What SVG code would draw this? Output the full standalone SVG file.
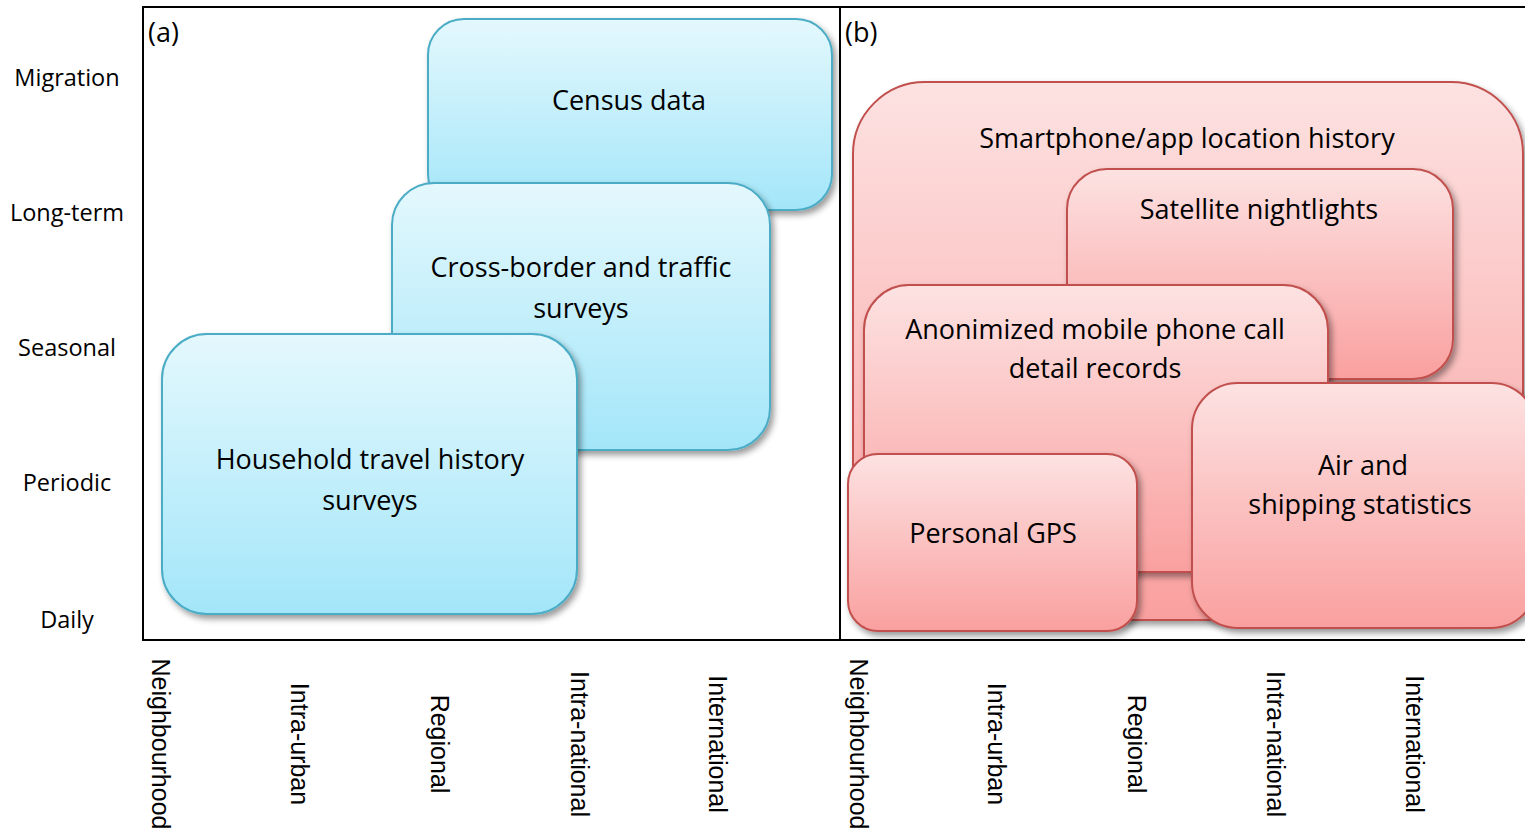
<svg xmlns="http://www.w3.org/2000/svg" width="1525" height="831" viewBox="0 0 1525 831">
<defs>
<linearGradient id="gBlue" x1="0" y1="0" x2="0" y2="1">
<stop offset="0" stop-color="#e4f8fd"/>
<stop offset="1" stop-color="#a3e6f9"/>
</linearGradient>
<linearGradient id="gRed" x1="0" y1="0" x2="0" y2="1">
<stop offset="0" stop-color="#fde2e2"/>
<stop offset="1" stop-color="#f9a09f"/>
</linearGradient>
<filter id="sh" x="-10%" y="-10%" width="125%" height="125%">
<feDropShadow dx="3" dy="4" stdDeviation="3" flood-color="#000" flood-opacity="0.4"/>
</filter>
</defs>
<style>
.blue{fill:url(#gBlue);stroke:#4bacc6;stroke-width:2;filter:url(#sh)}
.red{fill:url(#gRed);stroke:#c0504d;stroke-width:2;filter:url(#sh)}
.lbl{font-family:"Open Sans","Noto Sans",sans-serif;font-size:27px;fill:#000;text-anchor:middle}
.ylab{font-family:"Open Sans","Noto Sans",sans-serif;font-size:23.5px;fill:#000;text-anchor:middle}
.panel{font-family:"Open Sans","Noto Sans",sans-serif;font-size:27px;fill:#000}
.xlab{font-family:"Liberation Sans",Arial,sans-serif;font-size:25px;fill:#000;text-anchor:middle}
.frame{fill:none;stroke:#000;stroke-width:2}
</style>
<rect width="1525" height="831" fill="#fff"/>

<g id="frame">
<path class="frame" d="M1526,7 H143 V640 H1526"/>
<line class="frame" x1="840" y1="7" x2="840" y2="640"/>
<text class="panel" x="148" y="42">(a)</text>
<text class="panel" x="845" y="42">(b)</text>
</g>

<g id="y-axis">
<text class="ylab" x="67" y="86">Migration</text>
<text class="ylab" x="67" y="221">Long-term</text>
<text class="ylab" x="67" y="356">Seasonal</text>
<text class="ylab" x="67" y="491">Periodic</text>
<text class="ylab" x="67" y="628">Daily</text>
</g>

<g id="x-axis">
<text class="xlab" transform="translate(161,744) rotate(90)" dy="0.35em">Neighbourhood</text>
<text class="xlab" transform="translate(300,744) rotate(90)" dy="0.35em">Intra-urban</text>
<text class="xlab" transform="translate(440,744) rotate(90)" dy="0.35em">Regional</text>
<text class="xlab" transform="translate(580,744) rotate(90)" dy="0.35em">Intra-national</text>
<text class="xlab" transform="translate(718,744) rotate(90)" dy="0.35em">International</text>
<text class="xlab" transform="translate(859,744) rotate(90)" dy="0.35em">Neighbourhood</text>
<text class="xlab" transform="translate(997,744) rotate(90)" dy="0.35em">Intra-urban</text>
<text class="xlab" transform="translate(1137,744) rotate(90)" dy="0.35em">Regional</text>
<text class="xlab" transform="translate(1276,744) rotate(90)" dy="0.35em">Intra-national</text>
<text class="xlab" transform="translate(1415,744) rotate(90)" dy="0.35em">International</text>
</g>

<g id="census">
<rect class="blue" x="428" y="19" width="404" height="191" rx="36"/>
<text class="lbl" x="629" y="110">Census data</text>
</g>
<g id="crossborder">
<rect class="blue" x="392" y="183" width="378" height="267" rx="42"/>
<text class="lbl" x="581" y="277">Cross-border and traffic</text>
<text class="lbl" x="581" y="318">surveys</text>
</g>
<g id="household">
<rect class="blue" x="162" y="334" width="415" height="280" rx="45"/>
<text class="lbl" x="370" y="469">Household travel history</text>
<text class="lbl" x="370" y="510">surveys</text>
</g>

<g id="smartphone">
<rect class="red" x="853" y="82" width="670" height="538" rx="72"/>
<text class="lbl" x="1187" y="148">Smartphone/app location history</text>
</g>
<g id="satellite">
<rect class="red" x="1067" y="169" width="386" height="210" rx="40"/>
<text class="lbl" x="1259" y="219">Satellite nightlights</text>
</g>
<g id="cdr">
<rect class="red" x="864" y="285" width="464" height="287" rx="45"/>
<text class="lbl" x="1095" y="339">Anonimized mobile phone call</text>
<text class="lbl" x="1095" y="378">detail records</text>
</g>
<g id="gps">
<rect class="red" x="848" y="454" width="289" height="177" rx="30"/>
<text class="lbl" x="993" y="543">Personal GPS</text>
</g>
<g id="air">
<rect class="red" x="1192" y="383" width="345" height="245" rx="46"/>
<text class="lbl" x="1363" y="475">Air and</text>
<text class="lbl" x="1360" y="514">shipping statistics</text>
</g>

<g id="connectors"></g>
</svg>
